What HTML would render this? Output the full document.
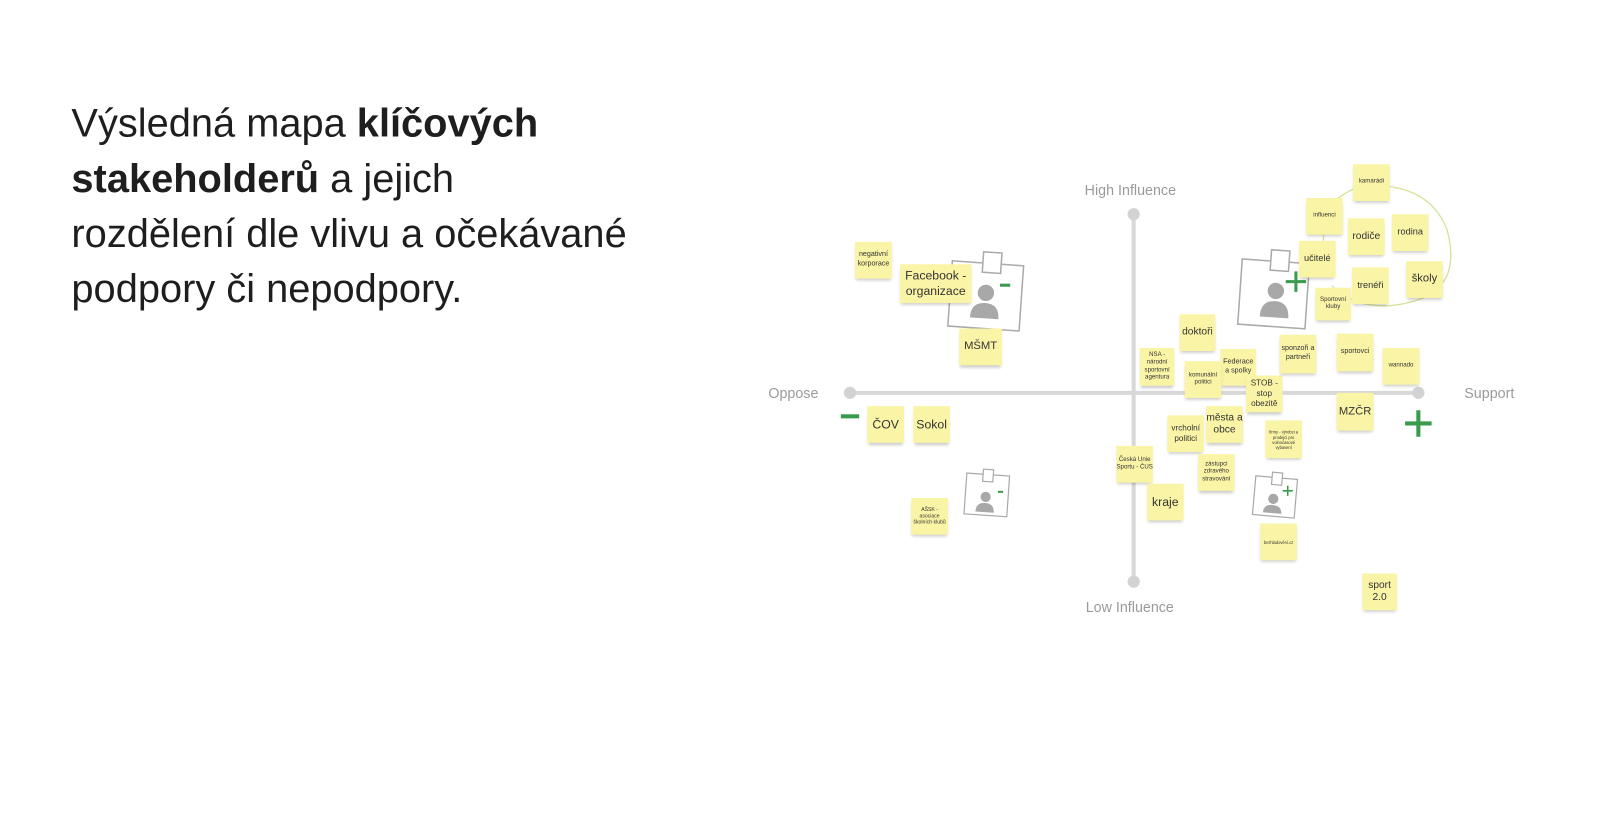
<!DOCTYPE html>
<html><head><meta charset="utf-8"><style>
body{margin:0;width:1600px;height:821px;background:#fff;position:relative;overflow:hidden;font-family:"Liberation Sans",sans-serif}
#w{position:absolute;left:0;top:0;width:1568px;height:805px;transform:scale(1.0204);transform-origin:0 0}
.t{position:absolute;left:70px;font-size:39px;color:#1e1e1e;white-space:nowrap;line-height:44px}
.s{position:absolute;background:#faf4a6;box-shadow:0 3px 3px -1px rgba(0,0,0,.22);display:flex;align-items:center;justify-content:center;text-align:center;color:#333;line-height:1.25}
.lab{position:absolute;color:#9a9a9a;font-size:14px;white-space:nowrap}
</style></head><body><div id="w">
<div class="t" style="top:100px">Výsledná mapa <b>klíčových</b></div>
<div class="t" style="top:154px"><b>stakeholderů</b> a jejich</div>
<div class="t" style="top:208px">rozdělení dle vlivu a očekávané</div>
<div class="t" style="top:262px">podpory či nepodpory.</div>

<svg style="position:absolute;left:0;top:0" width="1568" height="805">
<line x1="833" y1="385" x2="1390" y2="385" stroke="#d8d8d8" stroke-width="4"/>
<line x1="1111" y1="210" x2="1111" y2="570" stroke="#d8d8d8" stroke-width="4"/>
<circle cx="833" cy="385" r="6" fill="#d3d3d3"/><circle cx="1390" cy="385" r="6" fill="#d3d3d3"/>
<circle cx="1111" cy="210" r="6" fill="#d3d3d3"/><circle cx="1111" cy="570" r="6" fill="#d3d3d3"/>
<path d="M1300,205 Q1315,188 1335,182 Q1400,178 1418,225 Q1432,275 1395,292 Q1360,305 1330,296 Q1310,285 1305,280" fill="none" stroke="#d6e39a" stroke-width="1.3"/>
<line x1="1297" y1="230" x2="1297" y2="240" stroke="#d6e39a" stroke-width="1.3"/>
<g transform="rotate(4 966 290)"><rect x="931" y="258" width="70" height="64" fill="#fff" stroke="#aaa" stroke-width="1.5"/><rect x="961" y="247" width="18" height="20" fill="#fff" stroke="#aaa" stroke-width="1.5"/>
<circle cx="966" cy="287" r="8" fill="#a8a8a8"/><path d="M952,312 Q952,297 966,297 Q980,297 980,312 Z" fill="#a8a8a8"/></g>
<rect x="980" y="278" width="10" height="3" fill="#3a9a4e"/>
<g transform="rotate(4 1248 290)"><rect x="1215" y="256" width="66" height="64" fill="#fff" stroke="#aaa" stroke-width="1.5"/><rect x="1243" y="245" width="18" height="20" fill="#fff" stroke="#aaa" stroke-width="1.5"/>
<circle cx="1250" cy="285" r="8" fill="#a8a8a8"/><path d="M1236,311 Q1236,295 1250,295 Q1264,295 1264,311 Z" fill="#a8a8a8"/></g>
<path d="M1270,266 v20 M1260,276 h20" stroke="#3a9a4e" stroke-width="3"/>
<g transform="rotate(4 967 486)"><rect x="946" y="465" width="42" height="40" fill="#fff" stroke="#aaa" stroke-width="1.2"/><rect x="962" y="460" width="10" height="12" fill="#fff" stroke="#aaa" stroke-width="1.2"/>
<circle cx="966" cy="487" r="5" fill="#a8a8a8"/><path d="M957,502 Q957,493 966,493 Q975,493 975,502 Z" fill="#a8a8a8"/></g>
<rect x="978" y="481" width="5" height="2" fill="#3a9a4e"/>
<g transform="rotate(5 1249 487)"><rect x="1229" y="468" width="41" height="38" fill="#fff" stroke="#aaa" stroke-width="1.2"/><rect x="1245" y="463" width="10" height="12" fill="#fff" stroke="#aaa" stroke-width="1.2"/>
<circle cx="1248" cy="489" r="5" fill="#a8a8a8"/><path d="M1239,503 Q1239,495 1248,495 Q1257,495 1257,503 Z" fill="#a8a8a8"/></g>
<path d="M1262,476 v10 M1257,481 h10" stroke="#3a9a4e" stroke-width="1.5"/>
<rect x="824" y="406" width="18" height="4" fill="#3a9a4e"/>
<path d="M1390,402 v26 M1377,415 h26" stroke="#3a9a4e" stroke-width="4"/>
</svg>

<div class="lab" style="left:1063px;top:178px">High Influence</div>
<div class="lab" style="left:1064px;top:587px">Low Influence</div>
<div class="lab" style="left:753px;top:377px">Oppose</div>
<div class="lab" style="left:1435px;top:377px">Support</div>

<div class="s" style="left:838px;top:237px;width:36px;height:36px;font-size:7px">negativní korporace</div>
<div class="s" style="left:882px;top:259px;width:70px;height:38px;font-size:12px">Facebook -<br>organizace</div>
<div class="s" style="left:940px;top:322px;width:42px;height:36px;font-size:11px">MŠMT</div>
<div class="s" style="left:1156px;top:308px;width:35px;height:36px;font-size:10px">doktoři</div>
<div class="s" style="left:1117px;top:341px;width:34px;height:37px;font-size:6px">NSA - národní sportovní agentura</div>
<div class="s" style="left:1196px;top:342px;width:35px;height:36px;font-size:7px">Federace a spolky</div>
<div class="s" style="left:1161px;top:354px;width:36px;height:36px;font-size:6px">komunální politici</div>
<div class="s" style="left:1221px;top:368px;width:36px;height:36px;font-size:8px">STOB - stop obezitě</div>
<div class="s" style="left:1254px;top:328px;width:36px;height:38px;font-size:7px">sponzoři a partneři</div>
<div class="s" style="left:1310px;top:327px;width:36px;height:37px;font-size:7px">sportovci</div>
<div class="s" style="left:1355px;top:341px;width:36px;height:36px;font-size:6px">wannado</div>
<div class="s" style="left:1310px;top:385px;width:36px;height:37px;font-size:11px">MZČR</div>
<div class="s" style="left:850px;top:398px;width:36px;height:36px;font-size:12px">ČOV</div>
<div class="s" style="left:895px;top:398px;width:36px;height:36px;font-size:12px">Sokol</div>
<div class="s" style="left:1144px;top:407px;width:36px;height:36px;font-size:8px">vrcholní politici</div>
<div class="s" style="left:1182px;top:398px;width:36px;height:36px;font-size:10px">města a obce</div>
<div class="s" style="left:1240px;top:412px;width:36px;height:37px;font-size:4px">firmy - výrobci a prodejci pro volnočasové vybavení</div>
<div class="s" style="left:1094px;top:437px;width:36px;height:36px;font-size:6px">Česká Unie Sportu - ČUS</div>
<div class="s" style="left:1174px;top:445px;width:36px;height:36px;font-size:6px">zástupci zdravého stravování</div>
<div class="s" style="left:1124px;top:474px;width:36px;height:36px;font-size:12px">kraje</div>
<div class="s" style="left:893px;top:488px;width:36px;height:36px;font-size:5px">AŠSK - asociace školních klubů</div>
<div class="s" style="left:1235px;top:513px;width:36px;height:36px;font-size:4px">bezhladovění.cz</div>
<div class="s" style="left:1335px;top:562px;width:34px;height:36px;font-size:10px">sport 2.0</div>
<div class="s" style="left:1326px;top:161px;width:36px;height:36px;font-size:6px">kamarádi</div>
<div class="s" style="left:1280px;top:194px;width:36px;height:36px;font-size:6px">influenci</div>
<div class="s" style="left:1321px;top:214px;width:36px;height:36px;font-size:10px">rodiče</div>
<div class="s" style="left:1364px;top:210px;width:36px;height:36px;font-size:9px">rodina</div>
<div class="s" style="left:1273px;top:236px;width:36px;height:36px;font-size:9px">učitelé</div>
<div class="s" style="left:1325px;top:262px;width:36px;height:36px;font-size:9px">trenéři</div>
<div class="s" style="left:1378px;top:256px;width:36px;height:36px;font-size:11px">školy</div>
<div class="s" style="left:1289px;top:282px;width:35px;height:32px;font-size:6px">Sportovní kluby</div>
</div></body></html>
